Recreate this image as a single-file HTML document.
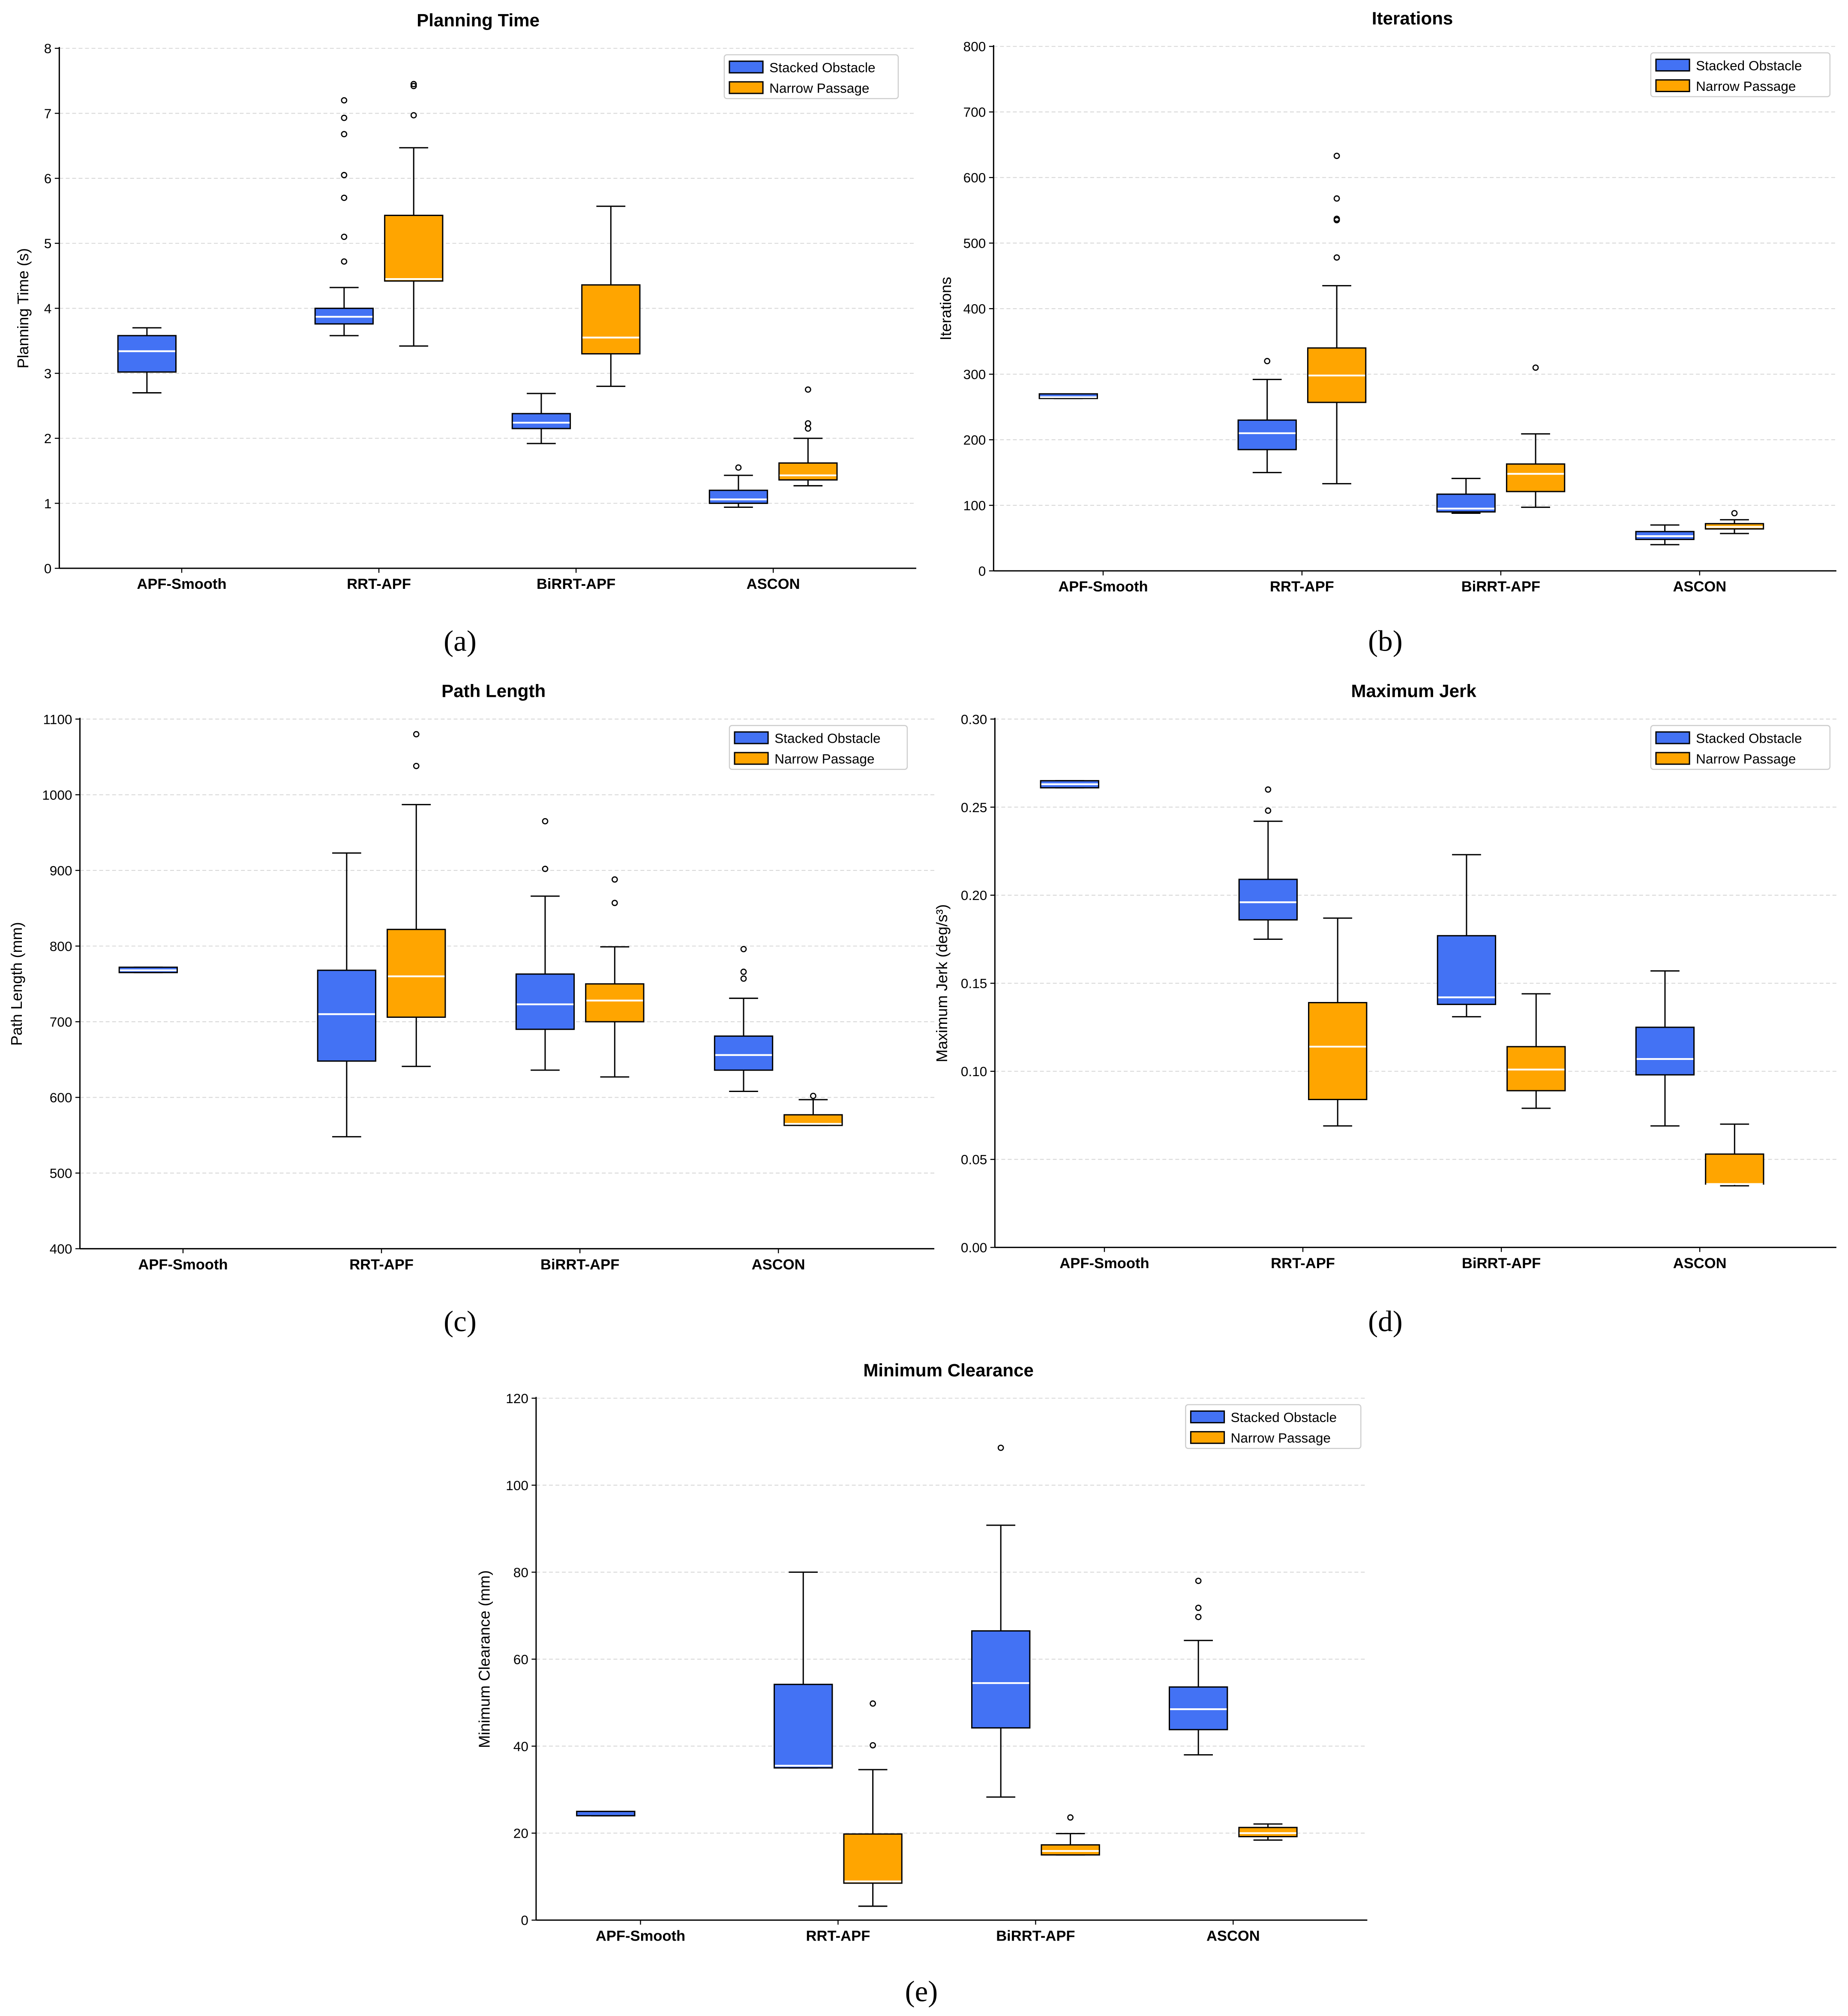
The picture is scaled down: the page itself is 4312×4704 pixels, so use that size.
<!DOCTYPE html>
<html><head><meta charset="utf-8">
<style>
html,body{margin:0;padding:0;background:#fff;}
svg{display:block;}
</style></head>
<body>
<svg id="fig" width="4312" height="4704" viewBox="0 0 1434 1564.4" xmlns="http://www.w3.org/2000/svg" font-family="'Liberation Sans','DejaVu Sans',sans-serif"></svg>
<script>
const categories = ["APF-Smooth","RRT-APF","BiRRT-APF","ASCON"];
const seriesNames = ["Stacked Obstacle","Narrow Passage"];
// [whislo, q1, median, q3, whishi]
const ptBlue = [[2.7,3.02,3.34,3.58,3.7],[3.58,3.76,3.87,4.0,4.32],[1.92,2.15,2.24,2.38,2.69],[0.94,1.0,1.06,1.2,1.43]];
const ptOrange = [null,[3.42,4.42,4.45,5.43,6.47],[2.8,3.3,3.55,4.36,5.57],[1.27,1.36,1.43,1.62,2.0]];
const ptBlueFliers = [[],[4.72,5.1,5.7,6.05,6.68,6.93,7.2],[],[1.55]];
const ptOrangeFliers = [[],[6.97,7.42,7.45],[],[2.15,2.23,2.75]];
const ptTicks = [0,1,2,3,4,5,6,7,8];

const itBlue = [[263,263,265,270,270],[150,185,210,230,292],[88,90,95,117,141],[40,48,53,60,70]];
const itOrange = [null,[133,257,298,340,435],[97,121,148,163,209],[57,64,67,72,78]];
const itBlueFliers = [[],[320],[],[]];
const itOrangeFliers = [[],[478,535,537,568,633],[310],[88]];
const itTicks = [0,100,200,300,400,500,600,700,800];

const plBlue = [[765,765,768,772,772],[548,648,710,768,923],[636,690,723,763,866],[608,636,656,681,731]];
const plOrange = [null,[641,706,760,822,987],[627,700,728,750,799],[563,563,565,577,597]];
const plBlueFliers = [[],[],[902,965],[757,766,796]];
const plOrangeFliers = [[],[1038,1080],[857,888],[602]];
const plTicks = [400,500,600,700,800,900,1000,1100];

const mjBlue = [[0.261,0.261,0.263,0.265,0.265],[0.175,0.186,0.196,0.209,0.242],[0.131,0.138,0.142,0.177,0.223],[0.069,0.098,0.107,0.125,0.157]];
const mjOrange = [null,[0.069,0.084,0.114,0.139,0.187],[0.079,0.089,0.101,0.114,0.144],[0.035,0.036,0.036,0.053,0.070]];
const mjBlueFliers = [[],[0.248,0.260],[],[]];
const mjOrangeFliers = [[],[],[],[]];
const mjTicks = [0,0.05,0.10,0.15,0.20,0.25,0.30];
const mjTickLabels = ["0.00","0.05","0.10","0.15","0.20","0.25","0.30"];

const mcBlue = [[24,24,24.5,25,25],[35,35,35.5,54.2,80],[28.3,44.2,54.5,66.5,90.8],[38,43.8,48.5,53.6,64.3]];
const mcOrange = [null,[3.2,8.5,8.9,19.8,34.6],[15,15,15.9,17.3,19.9],[18.4,19.2,20,21.3,22.1]];
const mcBlueFliers = [[],[],[108.6],[69.7,71.8,78]];
const mcOrangeFliers = [[],[40.2,49.8],[23.6],[]];
const mcTicks = [0,20,40,60,80,100,120];

const NS = "http://www.w3.org/2000/svg";
const svg = document.getElementById("fig");
const BLUE = "#4372F4", ORANGE = "#FFA500";
function mk(tag, attrs, parent){ const e=document.createElementNS(NS,tag); for(const k in attrs) e.setAttribute(k,attrs[k]); (parent||svg).appendChild(e); return e; }
function txt(s, attrs, parent){ const e=mk("text",attrs,parent); e.textContent=s; return e; }

function panel(cfg){
  const g = mk("g",{});
  
  
  const ymin=cfg.ticks[0], ymax=cfg.ticks[cfg.ticks.length-1];
  const y = v => cfg.bottom - (v-ymin)/(ymax-ymin)*(cfg.bottom-cfg.top);
  const xc = i => cfg.cat0 + cfg.step*i;
  cfg.ticks.forEach((t,i)=>{
    if(i>0){ const gl=mk("line",{x1:cfg.left,x2:cfg.right,y1:y(t),y2:y(t),stroke:"#d8d8d8","stroke-width":0.7,"stroke-dasharray":"3,2"},g);
        }
    const tm=mk("line",{x1:cfg.left-3.5,x2:cfg.left,y1:y(t),y2:y(t),stroke:"#000","stroke-width":0.8},g);
     
    const tl=txt(cfg.tickLabels?cfg.tickLabels[i]:String(t),{x:cfg.left-6,y:y(t)+3.8,"font-size":10.5,"text-anchor":"end",fill:"#000"},g);
     
  });
  const ax=mk("line",{x1:cfg.left,x2:cfg.left,y1:cfg.top-1,y2:cfg.bottom,stroke:"#000","stroke-width":1},g);
   
  const bx=mk("line",{x1:cfg.left,x2:cfg.right,y1:cfg.bottom,y2:cfg.bottom,stroke:"#000","stroke-width":1},g);
   
  categories.forEach((c,i)=>{
    const tm=mk("line",{x1:xc(i),x2:xc(i),y1:cfg.bottom,y2:cfg.bottom+3.5,stroke:"#000","stroke-width":0.8},g);
     
    const tl=txt(c,{x:xc(i),y:cfg.bottom+16,"font-size":11.5,"font-weight":"bold","text-anchor":"middle"},g);
     
  });
  const bw=45, off=27;
  function drawBox(d, fl, cx, color, nm){
    if(d){
      const cap=bw/2;
      const l1=mk("line",{x1:cx,x2:cx,y1:y(d[0]),y2:y(d[1]),stroke:"#000","stroke-width":1},g);
       
      const l2=mk("line",{x1:cx,x2:cx,y1:y(d[3]),y2:y(d[4]),stroke:"#000","stroke-width":1},g);
       
      const c1=mk("line",{x1:cx-cap/2,x2:cx+cap/2,y1:y(d[0]),y2:y(d[0]),stroke:"#000","stroke-width":1},g);
       
      const c2=mk("line",{x1:cx-cap/2,x2:cx+cap/2,y1:y(d[4]),y2:y(d[4]),stroke:"#000","stroke-width":1},g);
       
      const h=Math.max(y(d[1])-y(d[3]),1.5);
      const r=mk("rect",{x:cx-bw/2,y:y(d[3]),width:bw,height:h,fill:color,stroke:"#000","stroke-width":1},g);
       
      if(h>3.5){
        const m=mk("line",{x1:cx-bw/2+0.5,x2:cx+bw/2-0.5,y1:y(d[2]),y2:y(d[2]),stroke:"#fff","stroke-width":1.4},g);
         
      }
    }
    fl.forEach(v=>{
      const p=mk("circle",{cx:cx,cy:y(v),r:2,fill:"none",stroke:"#000","stroke-width":0.9},g);
       
    });
  }
  categories.forEach((c,i)=>{
    const key=c.toLowerCase();
    drawBox(cfg.blue[i], cfg.blueF[i], xc(i)-off, BLUE, key+'-stacked');
    drawBox(cfg.orange[i], cfg.orangeF[i], xc(i)+off, ORANGE, key+'-narrow');
  });
  const t=txt(cfg.title,{x:cfg.titleX,y:cfg.top-17,"font-size":14,"font-weight":"bold","text-anchor":"middle"},g);
   
  const yl=txt(cfg.ylabel,{x:0,y:0,"font-size":12,"text-anchor":"middle",transform:`translate(${cfg.ylx},${(cfg.top+cfg.bottom)/2}) rotate(-90)`},g);
   
  const lg=mk("g",{},g);
   
  const lx=cfg.legX, ly=cfg.top+5;
  mk("rect",{x:lx,y:ly,width:cfg.legW,height:34,fill:"#fff",stroke:"#ccc","stroke-width":0.8,rx:2},lg);
  [BLUE,ORANGE].forEach((col,k)=>{
    const sw=mk("rect",{x:lx+4,y:ly+5+k*16,width:26,height:9,fill:col,stroke:"#000","stroke-width":1},lg);
     
    const lt=txt(seriesNames[k],{x:lx+35,y:ly+13.5+k*16,"font-size":10.5},lg);
     
  });
  const cap=txt(cfg.caption,{x:cfg.capx,y:cfg.capy,"font-size":23,"text-anchor":"middle","font-family":"'Liberation Serif',serif"},g);
   
}

panel({name:"planning-time-chart",title:"Planning Time",titleX:371,ylabel:"Planning Time (s)",left:46,right:711,top:37.5,bottom:441,cat0:141,step:153,ticks:ptTicks,blue:ptBlue,orange:ptOrange,blueF:ptBlueFliers,orangeF:ptOrangeFliers,ylx:22,legX:562,legW:135,caption:"(a)",capx:357,capy:505});
panel({name:"iterations-chart",title:"Iterations",titleX:1096,ylabel:"Iterations",left:771,right:1425,top:36,bottom:443,cat0:856,step:154.3,ticks:itTicks,blue:itBlue,orange:itOrange,blueF:itBlueFliers,orangeF:itOrangeFliers,ylx:738,legX:1281,legW:139,caption:"(b)",capx:1075,capy:505});
panel({name:"path-length-chart",title:"Path Length",titleX:383,ylabel:"Path Length (mm)",left:62,right:725,top:558,bottom:969,cat0:142,step:154,ticks:plTicks,blue:plBlue,orange:plOrange,blueF:plBlueFliers,orangeF:plOrangeFliers,ylx:17,legX:566,legW:138,caption:"(c)",capx:357,capy:1033});
panel({name:"maximum-jerk-chart",title:"Maximum Jerk",titleX:1097,ylabel:"Maximum Jerk (deg/s³)",tickLabels:mjTickLabels,left:772,right:1425,top:558,bottom:968,cat0:857,step:154,ticks:mjTicks,blue:mjBlue,orange:mjOrange,blueF:mjBlueFliers,orangeF:mjOrangeFliers,ylx:735,legX:1281,legW:139,caption:"(d)",capx:1075,capy:1033});
panel({name:"minimum-clearance-chart",title:"Minimum Clearance",titleX:736,ylabel:"Minimum Clearance (mm)",left:416,right:1061,top:1085,bottom:1490,cat0:497,step:153.3,ticks:mcTicks,blue:mcBlue,orange:mcOrange,blueF:mcBlueFliers,orangeF:mcOrangeFliers,ylx:380,legX:920,legW:136,caption:"(e)",capx:715,capy:1553});
</script>
</body></html>
